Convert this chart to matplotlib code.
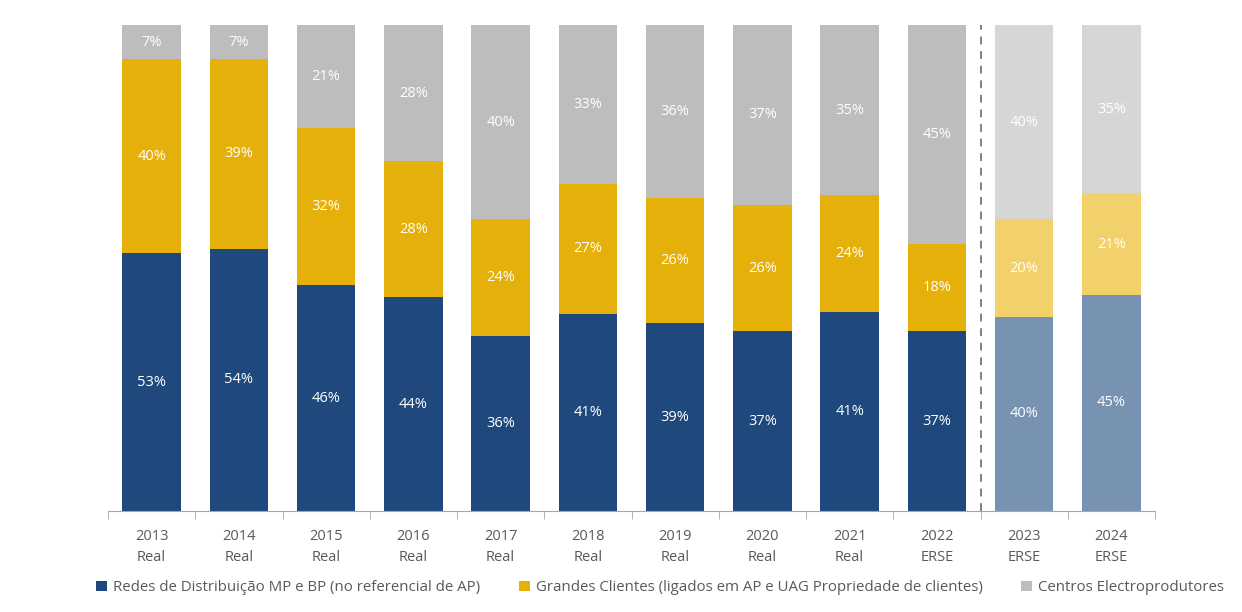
#--------------------- Importing the necessary libraries ---------------------------
import matplotlib.pyplot as plt
import numpy as np

#----------------------- Data ------------------------------------------------
years = ['2013', '2014', '2015', '2016', '2017', '2018', '2019', '2020', '2021', '2022', '2023', '2024']
kinds = ['Real'] * 9 + ['ERSE'] * 3
redes = [53, 54, 46, 44, 36, 41, 39, 37, 41, 37, 40, 45]
grandes = [40, 39, 32, 28, 24, 27, 26, 26, 24, 18, 20, 21]
centros = [7, 7, 21, 28, 40, 33, 36, 37, 35, 45, 40, 35]
legend_labels = ['Redes de Distribuição MP e BP (no referencial de AP)',
                 'Grandes Clientes (ligados em AP e UAG Propriedade de clientes)',
                 'Centros Electroprodutores']

plt.rcParams['font.family'] = ['Open Sans', 'DejaVu Sans']

# colours: normal years and lighter forecast years
dark = ['#1F497D', '#E6B00A', '#BDBDBD']
light = ['#7892B2', '#F2D06A', '#D6D6D6']

fig = plt.figure(figsize=(12.42, 6.12), dpi=100)
ax = fig.add_axes([0.087, 0.165, 0.843, 0.794])

x = np.arange(len(years))
series = [np.array(redes, float), np.array(grandes, float), np.array(centros, float)]
total = series[0] + series[1] + series[2]
bottom = np.zeros(len(years))
for s, (vals, label) in enumerate(zip(series, legend_labels)):
    share = vals / total
    cols = [light[s] if k >= 10 else dark[s] for k in range(len(years))]
    ax.bar(x, share, bottom=bottom, width=0.67, color=cols, label=label)
    for k in range(len(years)):
        ax.text(x[k], bottom[k] + share[k] / 2, f'{int(vals[k])}%',
                ha='center', va='center', color='white', fontsize=10.5)
    bottom += share

# separator between real values and forecasts
ax.axvline(9.5, ymin=0, ymax=1, color='#808080', linestyle=(0, (4, 3.5)), lw=1.4)

ax.set_xlim(-0.5, len(years) - 0.5)
ax.set_ylim(0, 1)
ax.set_yticks([])
for side in ['left', 'right', 'top']:
    ax.spines[side].set_visible(False)
ax.spines['bottom'].set_color('#A6A6A6')

ax.set_xticks(x)
ax.set_xticklabels([f'{y}\n{k}' for y, k in zip(years, kinds)], color='#595959',
                   fontsize=10.5, linespacing=1.55)
ax.tick_params(axis='x', length=0, pad=13)
ax.set_xticks(np.arange(-0.5, len(years)), minor=True)
ax.tick_params(axis='x', which='minor', length=6, color='#A6A6A6')

ax.legend(loc='center left', bbox_to_anchor=(-0.024, -0.158), ncol=3, frameon=False,
          fontsize=10.8, labelcolor='#595959', handlelength=0.7, handleheight=0.7,
          handletextpad=0.4, columnspacing=2.6)

plt.savefig('out.png', dpi=100)
